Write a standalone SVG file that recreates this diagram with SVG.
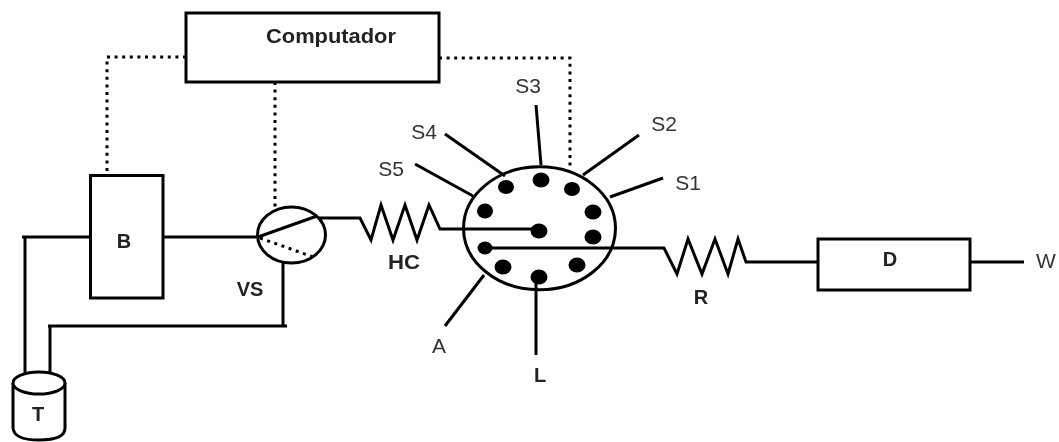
<svg xmlns="http://www.w3.org/2000/svg" width="1059" height="442" viewBox="0 0 1059 442">
<defs><filter id="soft" x="0" y="0" width="100%" height="100%" filterUnits="userSpaceOnUse" primitiveUnits="userSpaceOnUse"><feGaussianBlur stdDeviation="0.5"/></filter></defs>
<style>
.l{fill:none;stroke:#000;stroke-width:3}
.t{fill:none;stroke:#000;stroke-width:3}
.d{fill:none;stroke:#000;stroke-width:3;stroke-dasharray:3 4.6}
.n{fill:#fff;stroke:#000;stroke-width:3}
.b{font-family:"Liberation Sans",Arial,sans-serif;font-weight:bold;font-size:20px;fill:#222;text-anchor:middle}
.r{font-family:"Liberation Sans",Arial,sans-serif;font-size:21px;fill:#333;text-anchor:middle}
.p{fill:#000}
</style>
<g filter="url(#soft)">
<g id="connectors">
<path class="d" d="M186 57H107V175"/>
<path class="d" d="M439 58H570V168"/>
<path class="d" d="M275 82V207"/>
<path class="l" d="M22 237H90"/>
<path class="l" d="M25 237V373"/>
<path class="l" d="M48 326H287"/>
<path class="l" d="M50 326V373"/>
<path class="l" d="M283 263V326"/>
<path class="l" d="M163 237H258"/>
<path class="l" d="M319 218H360L371 240L381 205L393 240L405 205L417 240L429 205L440 229H533"/>
<path class="l" d="M485 248H664L677 274L688 239L702 274L715 239L728 274L738 239L746 262H818"/>
<path class="l" d="M970 262H1024"/>
<path class="l" d="M536 105L541 165"/>
<path class="l" d="M639 135L583 175"/>
<path class="l" d="M663 178L610 197"/>
<path class="l" d="M445 134L505 176"/>
<path class="l" d="M415 164L473 196"/>
<path class="l" d="M445 326L484 275"/>
<path class="l" d="M536 283V355"/>
</g>
<g id="computador"><rect class="n" x="186" y="13" width="253" height="69"/><text class="b" x="331" y="43" textLength="130" lengthAdjust="spacingAndGlyphs">Computador</text></g>
<g id="b"><rect class="n" x="90.500" y="175.500" width="72.500" height="122.500"/><text class="b" x="124" y="248">B</text></g>
<g id="vs"><ellipse class="t" cx="291.500" cy="235" rx="34" ry="28"/><path class="l" d="M258 237L317 216"/><path class="d" d="M260 238L316 258" stroke-width="2.500"/><text class="b" x="250" y="296">VS</text></g>
<g id="valve"><ellipse class="t" cx="539.500" cy="228.300" rx="76" ry="61.500"/>
<ellipse class="p" cx="506" cy="187" rx="8" ry="7"/><ellipse class="p" cx="541" cy="180" rx="8.500" ry="7.500"/><ellipse class="p" cx="572" cy="189" rx="8" ry="7"/><ellipse class="p" cx="593" cy="212" rx="8.500" ry="7.500"/><ellipse class="p" cx="593" cy="237" rx="8.500" ry="7.500"/><ellipse class="p" cx="577" cy="265" rx="8.500" ry="7.500"/><ellipse class="p" cx="539" cy="277" rx="8.500" ry="7.500"/><ellipse class="p" cx="503" cy="267" rx="8.500" ry="7.500"/><ellipse class="p" cx="485" cy="248" rx="7.500" ry="6.500"/><ellipse class="p" cx="485" cy="211" rx="8" ry="7.500"/><ellipse class="p" cx="539" cy="231" rx="8.500" ry="7.500"/></g>
<g id="d"><rect class="n" x="818" y="239" width="152" height="51"/><text class="b" x="890" y="266">D</text></g>
<g id="t"><path class="n" d="M13 383V428Q14 440 39 440Q65 440 65 428V383"/><ellipse class="n" cx="39" cy="383" rx="26" ry="11"/><text class="b" x="38" y="421">T</text></g>
<g id="labels">
<text class="b" x="404" y="269" textLength="32" lengthAdjust="spacingAndGlyphs">HC</text><text class="b" x="701" y="304">R</text><text class="b" x="540" y="382">L</text>
<text class="r" x="528" y="93">S3</text><text class="r" x="664" y="131">S2</text><text class="r" x="688" y="190">S1</text><text class="r" x="424" y="139">S4</text><text class="r" x="391" y="176">S5</text><text class="r" x="439" y="353">A</text><text class="r" x="1046" y="268">W</text>
</g>
</g>
</svg>
